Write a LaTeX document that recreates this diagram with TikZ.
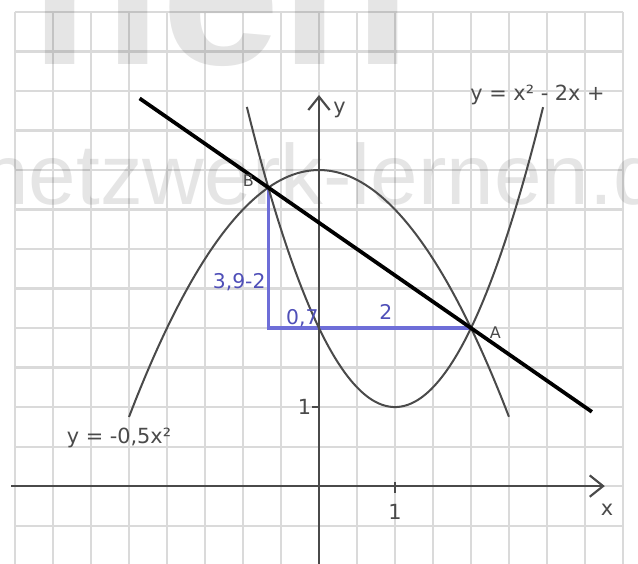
\documentclass[tikz,border=0pt]{standalone}
\usepackage{fontspec}
\setmainfont{DejaVu Sans}
\newfontfamily\wmfont{Liberation Sans}
\usetikzlibrary{arrows.meta}
\definecolor{gridc}{HTML}{DADADA}
\definecolor{curvec}{HTML}{4A4A4A}
\definecolor{bluec}{HTML}{6E6ED8}
\definecolor{bluet}{HTML}{4F4FB8}
\begin{document}
\begin{tikzpicture}[x=1cm,y=1.0395cm,
  gridline/.style={gridc, line width=0.8pt},
  axis/.style={curvec, line width=0.8pt, -{Straight Barb[length=5pt,width=8pt]}},
  tick/.style={curvec, line width=0.8pt},
  curve/.style={curvec, line width=0.75pt, smooth, samples=80},
  secant/.style={black, line width=1.4pt},
  helper/.style={bluec, line width=1.2pt},
  lbl/.style={text=curvec, font=\fontsize{7.8}{9}\selectfont, inner sep=1pt},
  blbl/.style={text=bluet, font=\fontsize{7.6}{9}\selectfont, inner sep=1pt},
  wmtext/.style={text=black, text opacity=0.1, inner sep=0pt}]
\clip (-4.197,-0.975) rectangle (4.197,6.152);
\fill[white] (-4.197,-0.975) rectangle (4.197,6.152);
% grid
\foreach \i in {-4,-3.5,...,4.01} \draw[gridline] (\i,-1) -- (\i,6);
\foreach \j in {-1,-0.5,...,6.01} \draw[gridline] (-4,\j) -- (4,\j);
% watermark
\node[wmtext, anchor=base west, font=\wmfont\bfseries\fontsize{80}{80}\selectfont] (wm1) at (-3.8,5.33) {nen};
\node[wmtext, anchor=base west, font=\wmfont\fontsize{32}{32}\selectfont] (wm2) at (-4.45,3.56) {netzwerk-lernen.de};
% key points
\coordinate (A) at (2,2);
\coordinate (B) at (-0.6667,3.7778);
\coordinate (C) at (-0.6667,2);
% slope triangle
\draw[helper] (B) -- (C) -- (A);
% axes
\coordinate (xs) at (-4.05,0);
\coordinate (xe) at (3.76,0);
\coordinate (ys) at (0,-1);
\coordinate (ye) at (0,4.95);
\draw[axis] (xs) -- (xe);
\draw[axis] (ys) -- (ye);
\node[lbl] (xl) at (3.79,-0.3) {x};
\node[lbl] (yl) at (0.27,4.76) {y};
\coordinate (ty0) at (-0.09,1);
\coordinate (ty1) at (0,1);
\coordinate (tx0) at (1,0.05);
\coordinate (tx1) at (1,-0.09);
\draw[tick] (ty0) -- (ty1);
\draw[tick] (tx0) -- (tx1);
\node[lbl] (one y) at (-0.19,1) {1};
\node[lbl] (one x) at (1,-0.33) {1};
% curves
\draw[curve, domain=-2.5:2.5] plot (\x,{-0.5*\x*\x+4});
\draw[curve, domain=-0.949:2.949] plot (\x,{\x*\x-2*\x+2});
% secant
\coordinate (s1) at (-2.36,4.9067);
\coordinate (s2) at (3.59,0.94);
\draw[secant] (s1) -- (s2);
% labels
\node[lbl, anchor=west] (fg) at (1.95,4.95) {y = x² - 2x +};
\node[lbl, anchor=west] (ff) at (-3.36,0.61) {y = -0,5x²};
\node[lbl, font=\fontsize{6}{7}\selectfont] (la) at (2.32,1.94) {A};
\node[lbl, font=\fontsize{6}{7}\selectfont] (lb) at (-0.93,3.86) {B};
\node[blbl] (d1) at (-1.05,2.58) {3,9-2};
\node[blbl] (d2) at (-0.22,2.13) {0,7};
\node[blbl] (d3) at (0.88,2.2) {2};
\end{tikzpicture}
\end{document}
